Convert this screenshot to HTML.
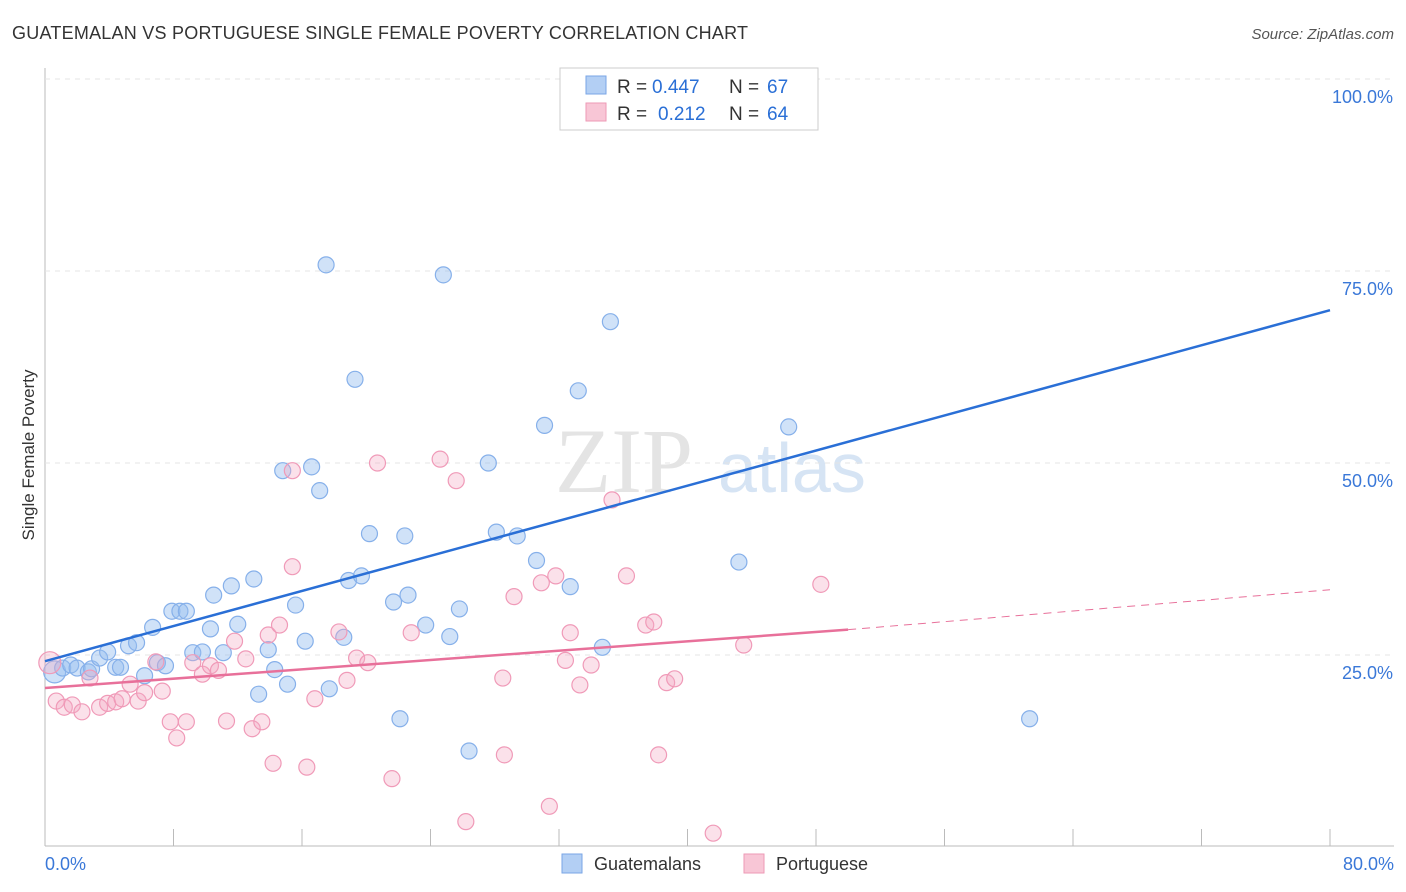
<!DOCTYPE html>
<html><head><meta charset="utf-8"><style>
body{margin:0;background:#fff;font-family:"Liberation Sans",sans-serif;}
svg{display:block}
</style></head><body>
<svg id="c" width="1406" height="892">
<text x="12" y="39" font-size="18" fill="#333" textLength="736">GUATEMALAN VS PORTUGUESE SINGLE FEMALE POVERTY CORRELATION CHART</text>
<text x="1394" y="39" font-size="15" fill="#555" font-style="italic" text-anchor="end">Source: ZipAtlas.com</text>
<text x="34" y="455" font-size="17" fill="#333" text-anchor="middle" transform="rotate(-90 34 455)">Single Female Poverty</text>
<text x="555" y="492" font-size="92" fill="#e4e4e4" font-family="Liberation Serif,serif">ZIP</text>
<text x="718" y="492" font-size="70" fill="#d6e4f4" font-family="Liberation Sans,sans-serif">atlas</text>
<g id="grid"></g><g id="pts"></g><g id="lines"></g>
<g>
<rect x="560" y="68" width="258" height="62" fill="#fff" stroke="#ccc"/>
<rect x="586" y="76" width="20" height="18" fill="#b3cff4" stroke="#7aa6e6"/>
<rect x="586" y="103" width="20" height="18" fill="#f8c6d6" stroke="#ee9ab6"/>
<text x="617" y="93" font-size="19" fill="#333">R =</text>
<text x="652" y="93" font-size="19" fill="#2a6fd6">0.447</text>
<text x="729" y="93" font-size="19" fill="#333">N =</text>
<text x="767" y="93" font-size="19" fill="#2a6fd6">67</text>
<text x="617" y="120" font-size="19" fill="#333">R =</text>
<text x="658" y="120" font-size="19" fill="#2a6fd6">0.212</text>
<text x="729" y="120" font-size="19" fill="#333">N =</text>
<text x="767" y="120" font-size="19" fill="#2a6fd6">64</text>
</g>
<g>
<rect x="562" y="854" width="20" height="19" fill="#b3cff4" stroke="#7aa6e6"/>
<text x="594" y="870" font-size="18" fill="#333">Guatemalans</text>
<rect x="744" y="854" width="20" height="19" fill="#f8c6d6" stroke="#ee9ab6"/>
<text x="776" y="870" font-size="18" fill="#333">Portuguese</text>
</g>
</svg>
<script>
const xTicks=[0,8,16,24,32,40,48,56,64,72,80];
const yTicks=[25,50,75,100];
const blueX=[0.6,1.1,1.6,2.0,2.7,2.9,3.4,3.9,4.4,4.7,5.2,5.7,6.2,6.7,7.0,7.5,7.9,8.4,8.8,9.2,9.8,10.3,10.5,11.1,11.6,12.0,13.0,13.3,13.9,14.3,15.1,15.6,16.2,14.8,16.6,17.1,17.5,17.7,18.6,18.9,19.3,19.7,20.2,21.7,22.1,22.4,22.6,23.7,24.8,25.2,25.8,26.4,27.6,28.1,29.4,30.6,31.1,32.7,33.2,34.7,35.2,43.2,46.3,61.3,38.2];
const blueY=[22.8,23.3,23.7,23.3,22.8,23.2,24.6,25.4,23.4,23.4,26.2,26.6,22.3,28.6,24.0,23.6,30.7,30.7,30.7,25.3,25.4,28.4,32.8,25.3,34.0,29.0,34.9,19.9,25.7,23.1,21.2,31.5,26.8,49.0,49.5,46.4,75.8,20.6,27.3,34.7,60.9,35.3,40.8,31.9,16.7,40.5,32.8,28.9,74.5,27.4,31.0,12.5,50.0,41.0,40.5,37.3,54.9,33.9,59.4,26.0,68.4,37.1,54.7,16.7,100];
const pinkX=[0.3,0.7,1.2,1.7,2.3,2.8,3.4,3.9,4.4,4.8,5.3,5.8,6.2,6.9,7.3,7.8,8.2,8.8,9.2,9.8,10.3,10.8,11.3,11.8,12.5,12.9,13.5,13.9,14.2,14.6,15.4,16.3,16.8,18.3,18.8,19.4,20.1,20.7,21.6,22.8,24.6,25.6,26.2,28.5,28.6,29.2,30.9,31.4,31.8,32.4,32.7,33.3,34.0,35.3,36.2,37.4,37.9,38.2,38.7,39.2,41.6,43.5,48.3,15.4];
const pinkY=[24.0,19.0,18.2,18.5,17.6,22.0,18.2,18.7,18.9,19.3,21.2,19.0,20.1,24.1,20.3,16.3,14.2,16.3,24.0,22.5,23.6,23.0,16.4,26.8,24.5,15.4,16.3,27.6,10.9,28.9,36.5,10.4,19.3,28.0,21.7,24.6,24.0,50.0,8.9,27.9,50.5,47.7,3.3,22.0,12.0,32.6,34.4,5.3,35.3,24.3,27.9,21.1,23.7,45.2,35.3,28.9,29.3,12.0,21.4,21.9,1.8,26.3,34.2,49.0];
const S='http://www.w3.org/2000/svg';
const X=v=>45+v/80*1285, Y=v=>847-v/100*768;
function mk(tag,a,p){const e=document.createElementNS(S,tag);for(const k in a)e.setAttribute(k,a[k]);p.appendChild(e);return e;}
const g=document.getElementById('grid');
let ax=mk('line',{x1:45,y1:68,x2:45,y2:846,stroke:'#bbb'},g);


let bx=mk('line',{x1:45,y1:846,x2:1394,y2:846,stroke:'#bbb'},g);


yTicks.forEach(t=>{
 const l=mk('line',{x1:45,y1:Y(t),x2:1394,y2:Y(t),stroke:'#e4e4e4','stroke-dasharray':'5,5'},g);
 
 
 const tx=mk('text',{x:1393,y:Y(t)+24,'font-size':18,fill:'#3a78d8','text-anchor':'end'},g);
 tx.textContent=t.toFixed(1)+'%';
 
 
});
xTicks.forEach(t=>{
 const l=mk('line',{x1:X(t),y1:829,x2:X(t),y2:846,stroke:'#bbb'},g);
 
 
});
[[0,'start',45],[80,'end',1394]].forEach(([v,a,x])=>{
 const tx=mk('text',{x:x,y:870,'font-size':18,fill:'#3a78d8','text-anchor':a},g);
 tx.textContent=v.toFixed(1)+'%';
 
 
});
const p=document.getElementById('pts');
blueX.forEach((v,i)=>{
 const c=mk('circle',{cx:X(v),cy:Y(blueY[i]),r:i==0?11:8,fill:'rgba(150,190,240,0.45)',stroke:'#86b0ea','stroke-width':1.2},p);
 
 
});
pinkX.forEach((v,i)=>{
 const c=mk('circle',{cx:X(v),cy:Y(pinkY[i]),r:i==0?11:8,fill:'rgba(244,170,196,0.35)',stroke:'#f09ab8','stroke-width':1.2},p);
 
 
});
const L=document.getElementById('lines');
let b=mk('line',{x1:X(0),y1:Y(24.2),x2:X(80),y2:Y(69.9),stroke:'#2a6fd6','stroke-width':2.5},L);


let pk=mk('line',{x1:X(0),y1:Y(20.7),x2:X(50),y2:Y(28.3),stroke:'#e8709a','stroke-width':2.5},L);


let pd=mk('line',{x1:X(50),y1:Y(28.3),x2:X(80),y2:Y(33.5),stroke:'#e8709a','stroke-width':1,'stroke-dasharray':'8,6'},L);


</script>
</body></html>
